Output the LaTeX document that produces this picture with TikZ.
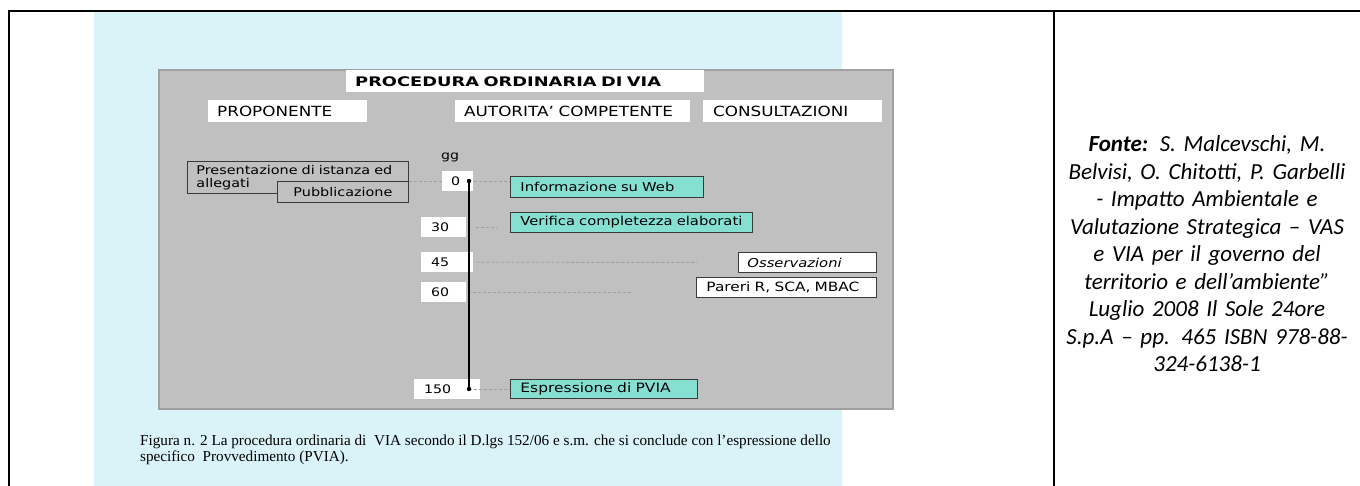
\documentclass[tikz,border=0pt]{standalone}
\usepackage{fontspec}
\newfontfamily\vf[FakeStretch=1.2]{DejaVu Sans}
\newfontfamily\vfb[FakeStretch=1.35]{DejaVu Sans Bold}
\newfontfamily\capf{Liberation Serif}
\newfontfamily\calf{Carlito}
\definecolor{panelblue}{HTML}{DAF3F8}
\definecolor{panelgrey}{HTML}{C0C0C0}
\definecolor{greyedge}{HTML}{A0A0A0}
\definecolor{teal}{HTML}{86E0D2}
\definecolor{boxedge}{HTML}{3A3A3A}
\tikzset{
  bx/.style={anchor=north west, inner ysep=0pt, align=left, font=\vf\fontsize{12.3}{14}\selectfont},
  lbl/.style={bx, fill=white, font=\vf\fontsize{14}{16}\selectfont},
  num/.style={bx, fill=white, font=\vf\fontsize{11.8}{14}\selectfont},
  tealbox/.style={bx, fill=teal, draw=boxedge, line width=0.9pt},
  whitebox/.style={bx, fill=white, draw=boxedge, line width=0.9pt},
  greybox/.style={bx, fill=panelgrey, draw=boxedge, line width=0.9pt, font=\vf\fontsize{12}{13}\selectfont},
  dashln/.style={draw=greyedge, line width=0.9pt, dash pattern=on 3pt off 2pt},
  vline/.style={draw=black, line width=1.4pt},
  tabline/.style={draw=black, line width=2pt},
  captext/.style={anchor=base west, inner sep=0pt, font=\capf\fontsize{15.2}{17}\selectfont},
}
\begin{document}
\begin{tikzpicture}[x=1pt,y=-1pt]
\useasboundingbox (0,0) rectangle (1360,486);
% table
\fill[white] (0,0) rectangle (1360,486);
\fill[panelblue] (94,12) rectangle (842,486);
\draw[tabline] (9,11) -- (1360,11);
\draw[tabline] (9,10) -- (9,486);
\draw[tabline] (1054,11) -- (1054,486);
% grey panel
\draw[fill=panelgrey, draw=greyedge, line width=1.2pt] (159,70) rectangle (893,409);
% headers
\node[lbl, minimum width=358pt, minimum height=22pt, inner xsep=9pt, text width=340pt, font=\vfb\fontsize{13.2}{15}\selectfont] (title) at (346,70) {PROCEDURA ORDINARIA DI VIA};
\node[lbl, minimum width=159pt, minimum height=22pt, inner xsep=9pt, text width=141pt] (prop) at (208,100) {PROPONENTE};
\node[lbl, minimum width=235pt, minimum height=22pt, inner xsep=9pt, text width=217pt] (aut) at (455,100) {AUTORITA’ COMPETENTE};
\node[lbl, minimum width=179pt, minimum height=22pt, inner xsep=10pt, text width=159pt] (cons) at (703,100) {CONSULTAZIONI};
\node[font=\vf\fontsize{11.8}{14}\selectfont] (gg) at (450,157) {gg};
% proponent boxes
\node[greybox, minimum width=221pt, minimum height=32pt, inner xsep=9pt, text width=203pt] (pres) at (187,161) {Presentazione di istanza ed\\allegati};
\node[greybox, minimum width=131pt, minimum height=21pt, inner xsep=5pt, text width=121pt, align=center] (pubb) at (277,181) {Pubblicazione};
% dashed guides
\coordinate (d0) at (469,181);
\coordinate (d150) at (469,389);
\node[tealbox, minimum width=193pt, minimum height=21pt, inner xsep=10pt, text width=173pt] (info) at (510,176) {Informazione su Web};
\draw[dashln] (pres.east |- d0) -- (info.west |- d0);
% day boxes
\node[num, minimum width=31pt, minimum height=20pt, inner xsep=9pt, text width=13pt] (n0) at (442,171) {0};
\node[num, minimum width=45pt, minimum height=20pt, inner xsep=10pt, text width=25pt] (n30) at (421,217) {30};
\node[num, minimum width=52pt, minimum height=20pt, inner xsep=10pt, text width=32pt] (n45) at (421,252) {45};
\node[num, minimum width=45pt, minimum height=20pt, inner xsep=10pt, text width=25pt] (n60) at (421,282) {60};
\node[num, minimum width=66pt, minimum height=20pt, inner xsep=10pt, text width=46pt] (n150) at (414,379) {150};
% activity boxes
\node[tealbox, minimum width=242pt, minimum height=20pt, inner xsep=10pt, text width=222pt] (verif) at (510,212) {Verifica completezza elaborati};
\node[whitebox, minimum width=138pt, minimum height=20pt, inner xsep=9pt, text width=120pt, font=\vf\itshape\fontsize{12.3}{14}\selectfont] (oss) at (738,252) {Osservazioni};
\node[whitebox, minimum width=180pt, minimum height=20pt, inner xsep=10pt, text width=160pt, font=\vf\fontsize{12.8}{14}\selectfont] (par) at (696,277) {Pareri R, SCA, MBAC};
\node[tealbox, minimum width=187pt, minimum height=19pt, inner xsep=10pt, text width=167pt, font=\vf\fontsize{12.9}{14}\selectfont] (espr) at (510,379) {Espressione di PVIA};
% dashed connectors
\draw[dashln] ([xshift=10pt]n30.east) -- ([xshift=31pt]n30.east);
\draw[dashln] ([xshift=3pt]n45.east) -- ([xshift=-41pt]oss.west);
\draw[dashln] ([xshift=2pt]n60.east) -- ([xshift=167pt]n60.east);
\draw[dashln] (d150) -- (d150 -| espr.west);
% time axis
\draw[vline] (d0) -- (d150);
\fill (d0) circle (2.2pt);
\fill (d150) circle (2.2pt);
% caption
\node[captext] (cap1) at (140,445) {Figura n. 2 La procedura ordinaria di \ VIA secondo il D.lgs 152/06 e s.m. che si conclude con l’espressione dello};
\node[captext] (cap2) at (140,461.5) {specifico \ Provvedimento (PVIA).};
% source
\node[align=center, text width=300pt, inner sep=0pt, font=\calf\itshape\fontsize{23}{27.5}\selectfont] (src) at (1207,254) {\textbf{Fonte:} S. Malcevschi, M.\\Belvisi, O. Chitotti, P. Garbelli\\- Impatto Ambientale e\\Valutazione Strategica – VAS\\e VIA per il governo del\\territorio e dell’ambiente”\\Luglio 2008 Il Sole 24ore\\S.p.A – pp. 465 ISBN 978-88-\\324-6138-1};
\end{tikzpicture}
\end{document}
